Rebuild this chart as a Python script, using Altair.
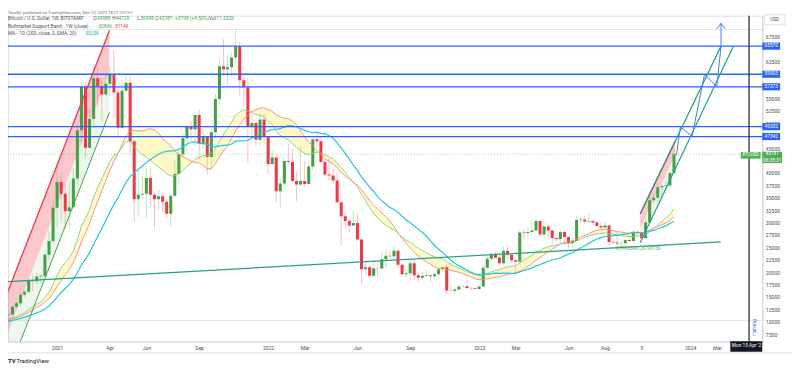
import altair as alt
import pandas as pd

# ---------------- data (prices in thousand USD) ----------------
# weekly candles; week index 0 = week of 2021-01-04, first candle = week of 2020-10-05
first_week = -13
opens = [10.67, 11.38, 11.5, 13.03, 13.75, 15.48, 16.05, 18.4, 18.2, 19.15,
         19.3, 23.5, 26.3, 33.0, 38.2, 35.8, 32.3, 33.1, 38.9, 48.6,
         57.4, 45.1, 50.9, 59.1, 57.5, 55.8, 58.0, 59.9, 56.2, 49.1,
         56.6, 58.2, 46.4, 34.7, 35.6, 35.8, 39.0, 35.6, 34.7, 35.3,
         34.2, 31.8, 35.4, 39.8, 43.8, 47.0, 49.3, 48.8, 51.7, 46.0,
         47.3, 43.2, 48.2, 54.9, 61.5, 60.9, 61.3, 63.3, 65.5, 58.7,
         57.3, 49.4, 50.1, 46.7, 50.8, 47.3, 41.8, 43.1, 36.3, 37.9,
         42.4, 42.2, 38.4, 37.7, 38.4, 37.8, 41.3, 46.8, 46.4, 42.2,
         39.7, 39.5, 38.5, 34.1, 31.3, 30.3, 29.4, 29.9, 26.6, 20.6,
         21.0, 19.3, 20.8, 20.75, 22.6, 23.3, 23.2, 24.3, 21.5, 19.6,
         19.8, 21.8, 19.4, 18.9, 19.3, 19.4, 19.2, 19.6, 20.6, 21.0,
         16.33, 16.28, 16.5, 17.1, 17.15, 16.8, 16.78, 16.6, 17.1, 20.9,
         22.7, 23.7, 22.9, 21.8, 24.3, 23.5, 22.4, 22.1, 28.0, 27.9,
         28.1, 28.4, 30.3, 27.6, 29.2, 28.4, 26.9, 26.7, 28.1, 27.1,
         25.9, 26.3, 30.5, 30.6, 30.2, 30.3, 30.0, 29.3, 29.0, 29.4,
         26.1, 26.0, 25.8, 25.85, 26.5, 26.3, 27.9, 27.95, 26.9, 30.0,
         34.5, 35.0, 37.1, 37.4, 37.5, 39.99]
highs = [11.49, 11.73, 13.35, 14.1, 15.96, 16.48, 18.8, 19.42, 19.9, 19.42,
         24.3, 28.4, 34.8, 41.9, 40.1, 37.9, 38.5, 40.9, 49.7, 58.4,
         58.1, 52.6, 61.8, 61.0, 58.6, 60.0, 61.3, 64.9, 57.5, 58.0,
         59.6, 59.6, 46.7, 40.9, 39.5, 41.3, 41.3, 36.1, 36.6, 35.9,
         34.7, 35.4, 42.6, 44.8, 48.1, 49.5, 50.5, 51.9, 52.9, 48.8,
         47.3, 49.2, 56.0, 62.9, 67.0, 63.7, 64.3, 69.0, 66.4, 59.6,
         59.2, 51.9, 50.3, 51.9, 52.1, 47.6, 44.5, 43.5, 38.9, 43.0,
         45.8, 44.7, 40.3, 45.4, 42.4, 42.3, 47.5, 48.2, 47.4, 42.4,
         42.9, 40.8, 40.0, 34.3, 31.5, 30.7, 32.4, 31.7, 26.9, 21.9,
         21.5, 22.5, 21.6, 24.3, 24.6, 24.2, 25.2, 24.4, 21.8, 20.6,
         22.8, 22.7, 19.9, 20.2, 20.5, 19.6, 19.7, 20.8, 21.1, 21.4,
         17.2, 16.8, 17.4, 17.4, 18.4, 17.0, 16.9, 17.4, 21.3, 23.3,
         23.9, 24.2, 23.4, 25.2, 25.1, 23.9, 22.6, 28.4, 28.9, 29.2,
         30.5, 31.0, 30.5, 30.0, 29.8, 28.6, 27.5, 28.4, 28.4, 27.2,
         26.8, 31.4, 31.0, 31.4, 31.8, 30.4, 30.3, 29.9, 30.2, 29.4,
         26.8, 28.1, 26.4, 26.9, 27.4, 28.6, 28.5, 28.0, 30.7, 35.2,
         35.9, 37.9, 37.9, 38.4, 40.2, 44.729]
lows = [10.54, 11.2, 11.41, 12.78, 13.21, 14.83, 15.8, 16.2, 17.6, 17.6,
        19.0, 22.4, 25.9, 29.0, 30.4, 28.8, 29.2, 33.0, 37.4, 46.2,
        43.0, 44.9, 49.3, 53.3, 50.4, 55.7, 55.5, 51.0, 47.0, 48.8,
        56.2, 43.8, 30.0, 31.1, 34.8, 31.0, 33.3, 28.8, 32.7, 32.1,
        31.0, 29.3, 35.2, 37.6, 43.0, 43.9, 46.4, 46.6, 42.8, 44.8,
        39.6, 40.8, 47.0, 53.9, 59.6, 57.8, 59.5, 62.3, 55.6, 53.5,
        42.0, 46.9, 45.5, 45.6, 45.7, 39.7, 41.3, 34.0, 32.9, 37.4,
        41.7, 38.0, 34.3, 37.4, 37.2, 37.5, 40.5, 45.2, 42.0, 39.2,
        38.6, 37.7, 33.7, 25.4, 28.7, 28.0, 29.3, 26.5, 17.6, 19.6,
        18.8, 19.0, 18.9, 20.5, 20.7, 22.4, 22.7, 20.8, 19.5, 19.0,
        18.6, 18.3, 18.1, 18.5, 19.0, 18.2, 18.8, 19.2, 20.0, 15.5,
        16.2, 15.6, 16.3, 16.9, 16.6, 16.3, 16.4, 16.5, 17.1, 20.4,
        22.3, 22.8, 21.4, 21.5, 22.8, 21.9, 19.6, 21.9, 26.6, 27.2,
        27.8, 28.2, 27.1, 26.9, 26.7, 25.8, 26.2, 25.9, 25.4, 24.8,
        25.0, 26.3, 29.9, 29.7, 29.9, 29.6, 28.9, 28.6, 28.7, 25.2,
        25.7, 25.4, 24.9, 25.7, 26.0, 26.0, 27.2, 26.5, 26.8, 29.9,
        33.9, 34.1, 34.7, 35.6, 36.9, 39.988]
closes = [11.38, 11.5, 13.03, 13.75, 15.48, 16.05, 18.4, 18.2, 19.15, 19.3,
          23.5, 26.3, 33.0, 38.2, 35.8, 32.3, 33.1, 38.9, 48.6, 57.4,
          45.1, 50.9, 59.1, 57.5, 55.8, 58.0, 59.9, 56.2, 49.1, 56.6,
          58.2, 46.4, 34.7, 35.6, 35.8, 39.0, 35.6, 34.7, 35.3, 34.2,
          31.8, 35.4, 39.8, 43.8, 47.0, 49.3, 48.8, 51.7, 46.0, 47.3,
          43.2, 48.2, 54.9, 61.5, 60.9, 61.3, 63.3, 65.5, 58.7, 57.3,
          49.4, 50.1, 46.7, 50.8, 47.3, 41.8, 43.1, 36.3, 37.9, 42.4,
          42.2, 38.4, 37.7, 38.4, 37.8, 41.3, 46.8, 46.4, 42.2, 39.7,
          39.5, 38.5, 34.1, 31.3, 30.3, 29.4, 29.9, 26.6, 20.6, 21.0,
          19.3, 20.8, 20.75, 22.6, 23.3, 23.2, 24.3, 21.5, 19.6, 19.8,
          21.8, 19.4, 18.9, 19.3, 19.4, 19.2, 19.6, 20.6, 21.0, 16.33,
          16.28, 16.5, 17.1, 17.15, 16.8, 16.78, 16.6, 17.1, 20.9, 22.7,
          23.7, 22.9, 21.8, 24.3, 23.5, 22.4, 22.1, 28.0, 27.9, 28.1,
          28.4, 30.3, 27.6, 29.2, 28.4, 26.9, 26.7, 28.1, 27.1, 25.9,
          26.3, 30.5, 30.6, 30.2, 30.3, 30.0, 29.3, 29.0, 29.4, 26.1,
          26.0, 25.8, 25.85, 26.5, 26.3, 27.9, 27.95, 26.9, 30.0, 34.5,
          35.0, 37.1, 37.4, 37.5, 39.99, 43.787]
# Bull market support band (20W SMA red, 21W EMA green) and 200D SMA (cyan), one value per candle
sma20w = [10.34, 10.45, 10.61, 10.83, 11.14, 11.48, 11.95, 12.40, 12.90, 13.36,
          13.98, 14.71, 15.77, 17.10, 18.30, 19.40, 20.54, 21.94, 23.83, 26.17,
          27.85, 29.82, 32.13, 34.31, 36.33, 38.43, 40.50, 42.40, 43.90, 45.77,
          47.50, 48.51, 48.59, 48.46, 48.46, 48.80, 48.92, 48.71, 48.05, 46.89,
          46.22, 45.45, 44.48, 43.80, 43.36, 42.92, 42.37, 42.14, 41.99, 41.52,
          40.77, 40.86, 41.87, 43.17, 44.42, 45.54, 46.92, 48.46, 49.63, 50.79,
          51.67, 52.40, 52.75, 53.10, 53.11, 52.74, 52.45, 51.68, 51.28, 51.03,
          50.98, 50.49, 49.63, 48.48, 47.32, 46.32, 45.50, 44.54, 43.72, 42.84,
          42.34, 41.76, 41.13, 40.16, 39.31, 38.69, 38.03, 37.54, 36.68, 35.61,
          34.46, 33.58, 32.74, 31.95, 31.22, 30.32, 29.19, 27.95, 26.82, 25.82,
          24.94, 23.98, 23.22, 22.62, 22.08, 21.57, 21.05, 20.75, 20.77, 20.54,
          20.39, 20.17, 19.99, 19.71, 19.39, 19.07, 18.68, 18.46, 18.53, 18.67,
          18.77, 18.94, 19.09, 19.34, 19.54, 19.70, 19.83, 20.20, 20.54, 21.13,
          21.74, 22.43, 22.95, 23.56, 24.14, 24.64, 25.15, 25.70, 26.01, 26.17,
          26.30, 26.68, 27.12, 27.41, 27.75, 28.13, 28.49, 28.54, 28.62, 28.52,
          28.40, 28.17, 28.08, 27.95, 27.84, 27.89, 27.95, 27.89, 28.04, 28.47,
          28.90, 29.23, 29.57, 29.94, 30.42, 31.15]
ema21w = [10.46, 10.55, 10.78, 11.05, 11.45, 11.87, 12.46, 12.98, 13.54, 14.06,
          14.92, 15.95, 17.50, 19.38, 20.87, 21.91, 22.93, 24.38, 26.58, 29.38,
          30.81, 32.64, 35.04, 37.08, 38.78, 40.53, 42.29, 43.55, 44.05, 45.19,
          46.37, 46.37, 45.31, 44.43, 43.65, 43.23, 42.54, 41.83, 41.24, 40.60,
          39.80, 39.40, 39.44, 39.84, 40.49, 41.29, 41.97, 42.85, 43.14, 43.52,
          43.49, 43.92, 44.92, 46.43, 47.75, 48.98, 50.28, 51.66, 52.30, 52.75,
          52.45, 52.24, 51.74, 51.65, 51.25, 50.39, 49.73, 48.51, 47.55, 47.08,
          46.64, 45.89, 45.15, 44.54, 43.93, 43.69, 43.97, 44.19, 44.01, 43.62,
          43.25, 42.82, 42.03, 41.05, 40.07, 39.10, 38.26, 37.20, 35.69, 34.35,
          32.98, 31.87, 30.86, 30.11, 29.49, 28.92, 28.50, 27.86, 27.11, 26.45,
          26.03, 25.43, 24.84, 24.34, 23.89, 23.46, 23.11, 22.88, 22.71, 22.13,
          21.60, 21.14, 20.77, 20.44, 20.11, 19.81, 19.52, 19.30, 19.45, 19.75,
          20.11, 20.36, 20.49, 20.84, 21.08, 21.20, 21.28, 21.89, 22.44, 22.95,
          23.45, 24.07, 24.39, 24.83, 25.15, 25.31, 25.44, 25.68, 25.81, 25.82,
          25.86, 26.28, 26.67, 26.99, 27.29, 27.54, 27.70, 27.82, 27.96, 27.79,
          27.63, 27.46, 27.31, 27.24, 27.15, 27.22, 27.28, 27.25, 27.50, 28.14,
          28.76, 29.52, 30.24, 30.90, 31.73, 32.85]
ma200d = [10.0, 10.15, 10.3, 10.5, 10.7, 10.95, 11.2, 11.5, 11.8, 12.13,
          12.61, 13.18, 14.00, 14.99, 15.91, 16.71, 17.54, 18.56, 19.90, 21.49,
          22.64, 23.99, 25.62, 27.20, 28.77, 30.42, 32.11, 33.67, 35.00, 36.56,
          38.17, 39.32, 40.04, 40.73, 41.42, 42.13, 42.73, 43.26, 43.81, 44.18,
          44.37, 44.46, 44.51, 44.79, 45.29, 45.85, 46.19, 46.30, 45.91, 45.98,
          45.72, 45.34, 45.25, 45.45, 45.55, 45.60, 45.84, 46.41, 46.48, 46.45,
          46.55, 47.08, 47.47, 47.98, 48.27, 48.48, 48.77, 48.81, 48.93, 49.30,
          49.53, 49.49, 49.28, 48.98, 48.58, 48.32, 48.16, 48.17, 47.99, 47.87,
          47.57, 47.01, 46.06, 45.04, 43.97, 42.80, 41.58, 40.47, 39.20, 38.22,
          37.16, 36.27, 35.23, 34.38, 33.74, 33.06, 32.64, 32.08, 31.29, 30.52,
          29.95, 29.32, 28.64, 28.01, 27.25, 26.30, 25.38, 24.63, 23.99, 23.19,
          22.42, 21.81, 21.32, 20.87, 20.43, 19.98, 19.64, 19.52, 19.51, 19.63,
          19.73, 19.80, 19.78, 19.81, 19.82, 19.76, 19.78, 20.07, 20.34, 20.56,
          20.87, 21.27, 21.55, 21.89, 22.21, 22.46, 22.67, 22.91, 23.29, 23.62,
          23.96, 24.42, 24.88, 25.34, 25.81, 26.27, 26.69, 26.97, 27.20, 27.29,
          27.39, 27.53, 27.58, 27.69, 27.82, 28.02, 28.02, 27.98, 28.05, 28.26,
          28.42, 28.75, 29.03, 29.34, 29.80, 30.26]

levels = [65570, 59903, 57373, 49332, 47342]
last_price = 43787
faint_levels = [68900, 10240]

x_tick_weeks = [0, 13, 22, 35, 52, 61, 74, 87, 104, 113, 126, 135, 144, 156, 162.6]
x_tick_labels = ["2021", "Apr", "Jun", "Sep", "2022", "Mar", "Jun", "Sep",
                 "2023", "Mar", "Jun", "Aug", "9", "2024", "Mar"]
# price-scale labels (those hidden behind the level / price tags are left out)
y_ticks = [7500, 10000, 12500, 15000, 17500, 20000, 22500, 25000, 27500, 30000,
           32500, 35000, 37500, 40000, 45000, 50000, 52500, 55000, 62500, 67500]

# drawings: (week index, price USD)
chan1_weeks = [-14.05, 12.9]
chan1_top = [12050, 68730]
chan1_mid = [3780, 60460]
chan1_bot = [-4490, 52190]
chan2_weeks = [143.68, 152.29]
chan2_top = [31780, 46370]
chan2_mid = [28860, 43570]
chan2_bot = [25940, 40780]
ext_up_weeks, ext_up_prices = [143.68, 163.59], [31780, 65570]
ext_lo_weeks, ext_lo_prices = [143.68, 166.63], [25940, 65570]
support_weeks, support_prices = [-14.0, 163.5], [18000, 26100]
path_weeks = [152.6, 153.58, 156.44, 159.54, 162.54, 163.59, 163.59]
path_prices = [43550, 49332, 47342, 59903, 57373, 65570, 70150]
arrow_weeks = [162.6, 163.59, 164.58]
arrow_prices = [69090, 70150, 69090]
halving_week = 170.5

for arr in (opens, highs, lows, closes, sma20w, ema21w, ma200d):
    assert len(arr) == len(closes), len(arr)

# ---------------- colours ----------------
UP, DOWN = "#43a047", "#f23645"
BLUE = "#2962ff"
TEAL = "#22a08a"
GRAY = "#50535e"
FONT = "Roboto"

XS = alt.Scale(domain=[-12.1, 173.76], nice=False, zero=False)
YS = alt.Scale(domain=[6044, 71690], nice=False, zero=False)

labels_js = "[" + ",".join("'%s'" % s for s in x_tick_labels) + "]"
vals_js = "[" + ",".join(str(v) for v in x_tick_weeks) + "]"
X_AXIS = alt.Axis(values=x_tick_weeks, labelExpr=f"{labels_js}[indexof({vals_js}, datum.value)]",
                  ticks=False, grid=False, domainColor="#d1d4dc",
                  labelColor="#4a4e59", labelFontSize=5.2, labelFont=FONT, labelPadding=4,
                  labelOverlap=False, labelFlush=False, title=None)
Y_AXIS = alt.Axis(orient="right", values=y_ticks, format="d", ticks=False,
                  grid=False, domainColor="#d1d4dc", labelColor="#4a4e59",
                  labelFontSize=5.2, labelFont=FONT, labelPadding=3, labelAlign="left",
                  labelOverlap=False, title=None)


def X(f, **kw):
    return alt.X(f, type="quantitative", scale=XS, axis=X_AXIS, title=None, **kw)


def Y(f, **kw):
    return alt.Y(f, type="quantitative", scale=YS, axis=Y_AXIS, title=None, **kw)


weeks = [first_week + i for i in range(len(closes))]
cd = pd.DataFrame({
    "k": weeks,
    "o": [v * 1000 for v in opens], "h": [v * 1000 for v in highs],
    "l": [v * 1000 for v in lows], "c": [v * 1000 for v in closes],
})
cd["x1"] = cd.k - 0.37
cd["x2"] = cd.k + 0.37
cd["col"] = [UP if c >= o else DOWN for o, c in zip(cd.o, cd.c)]

ind = pd.DataFrame({"k": weeks,
                    "sma": [v * 1000 for v in sma20w],
                    "ema": [v * 1000 for v in ema21w],
                    "ma": [v * 1000 for v in ma200d]})

layers = []

# candle bodies (defined here, layered after the fills)
bodies = alt.Chart(cd).mark_bar(clip=True).encode(
    x=X("x1"), x2="x2:Q", y=Y("o"), y2="c:Q",
    color=alt.Color("col:N", scale=None))

# faint horizontal lines
layers.append(alt.Chart(pd.DataFrame({"p": faint_levels})).mark_rule(
    color="#e3e4e8", strokeWidth=1).encode(y=Y("p")))

# channel 1 fills
ch1 = pd.DataFrame({"k": chan1_weeks, "t": chan1_top, "m": chan1_mid, "b": chan1_bot})
layers.append(alt.Chart(ch1).mark_area(color=DOWN, opacity=0.28, clip=True).encode(
    x=X("k"), y=Y("t"), y2="m:Q"))
layers.append(alt.Chart(ch1).mark_area(color="#4caf50", opacity=0.1, clip=True).encode(
    x=X("k"), y=Y("m"), y2="b:Q"))
# channel 2 fills
ch2 = pd.DataFrame({"k": chan2_weeks, "t": chan2_top, "m": chan2_mid, "b": chan2_bot})
layers.append(alt.Chart(ch2).mark_area(color=DOWN, opacity=0.28, clip=True).encode(
    x=X("k"), y=Y("t"), y2="m:Q"))
layers.append(alt.Chart(ch2).mark_area(color="#4caf50", opacity=0.1, clip=True).encode(
    x=X("k"), y=Y("m"), y2="b:Q"))

# bull market support band fill
layers.append(alt.Chart(ind).mark_area(color="#fff176", opacity=0.4, clip=True).encode(
    x=X("k"), y=Y("sma"), y2="ema:Q"))

# wicks and bodies
layers.append(alt.Chart(cd).mark_rule(strokeWidth=1, opacity=0.3, clip=True).encode(
    x=X("k"), y=Y("l"), y2="h:Q", color=alt.Color("col:N", scale=None)))
layers.append(bodies)

# indicator lines
layers.append(alt.Chart(ind).mark_line(color="#f08a80", strokeWidth=1, opacity=0.9, clip=True).encode(
    x=X("k"), y=Y("sma")))
layers.append(alt.Chart(ind).mark_line(color="#8cc98a", strokeWidth=1, opacity=0.9, clip=True).encode(
    x=X("k"), y=Y("ema")))
layers.append(alt.Chart(ind).mark_line(color="#26c6da", strokeWidth=1.2, clip=True).encode(
    x=X("k"), y=Y("ma")))

# horizontal resistance levels and current price line
layers.append(alt.Chart(pd.DataFrame({"p": levels})).mark_rule(color=BLUE, strokeWidth=1.3).encode(
    y=Y("p")))
layers.append(alt.Chart(pd.DataFrame({"p": [last_price]})).mark_rule(
    color="#4caf50", strokeWidth=1, strokeDash=[1, 2], opacity=0.55).encode(y=Y("p")))

# drawn trend lines (segments)
seg = pd.DataFrame([
    {"k": support_weeks[0], "p": support_prices[0], "k2": support_weeks[1], "p2": support_prices[1], "col": TEAL, "w": 1.3},
    {"k": chan1_weeks[0], "p": chan1_top[0], "k2": chan1_weeks[1], "p2": chan1_top[1], "col": DOWN, "w": 1.3},
    {"k": chan1_weeks[0], "p": chan1_bot[0], "k2": chan1_weeks[1], "p2": chan1_bot[1], "col": "#43a047", "w": 1.0},
    {"k": chan2_weeks[0], "p": chan2_top[0], "k2": chan2_weeks[1], "p2": chan2_top[1], "col": DOWN, "w": 1.3},
    {"k": ext_up_weeks[0], "p": ext_up_prices[0], "k2": ext_up_weeks[1], "p2": ext_up_prices[1], "col": TEAL, "w": 1.2},
    {"k": ext_lo_weeks[0], "p": ext_lo_prices[0], "k2": ext_lo_weeks[1], "p2": ext_lo_prices[1], "col": TEAL, "w": 1.2},
])
layers.append(alt.Chart(seg).mark_rule(clip=True).encode(
    x=X("k"), x2="k2:Q", y=Y("p"), y2="p2:Q",
    color=alt.Color("col:N", scale=None), strokeWidth=alt.StrokeWidth("w:Q", scale=None)))

# projected path with arrow
pseg = pd.DataFrame({"k": path_weeks[:-1], "p": path_prices[:-1],
                     "k2": path_weeks[1:], "p2": path_prices[1:]})
aseg = pd.DataFrame({"k": arrow_weeks[:-1], "p": arrow_prices[:-1],
                     "k2": arrow_weeks[1:], "p2": arrow_prices[1:]})
for d in (pseg, aseg):
    layers.append(alt.Chart(d).mark_rule(color="#3d7bf7", strokeWidth=1, clip=True).encode(
        x=X("k"), x2="k2:Q", y=Y("p"), y2="p2:Q"))

# halving vertical line
layers.append(alt.Chart(pd.DataFrame({"k": [halving_week]})).mark_rule(
    color="#2a2e39", strokeWidth=1.3).encode(x=X("k")))

# small value label on the support line
layers.append(alt.Chart(pd.DataFrame({"k": [137.7], "p": [24700], "t": ["0.9986343120198139"]})).mark_text(
    align="left", baseline="middle", fontSize=4.6, font=FONT, color="#4caf50").encode(
    x=X("k"), y=Y("p"), text="t:N"))

# price-axis boxes for levels
lv = pd.DataFrame({"p": levels, "t": [str(v) for v in levels]})
lv["lo"] = lv.p - 720
lv["hi"] = lv.p + 720
layers.append(alt.Chart(lv).mark_rect(color=BLUE).encode(
    x=alt.value(762), x2=alt.value(780), y=Y("lo"), y2="hi:Q"))
layers.append(alt.Chart(lv).mark_text(color="white", fontSize=4.8, font=FONT, align="center",
                                      baseline="middle").encode(
    x=alt.value(771), y=Y("p"), text="t:N"))

# current price box on the price axis + BTCUSD tag
layers.append(alt.Chart(pd.DataFrame({"lo": [42000], "hi": [44300]})).mark_rect(color="#4caf50").encode(
    x=alt.value(762), x2=alt.value(782), y=Y("lo"), y2="hi:Q"))
layers.append(alt.Chart(pd.DataFrame({"p": [last_price, 42360], "t": [str(last_price), "06:38:31"]})).mark_text(
    color="white", fontSize=4.8, font=FONT, align="center", baseline="middle").encode(
    x=alt.value(772), y=Y("p"), text="t:N"))
layers.append(alt.Chart(pd.DataFrame({"lo": [42900], "hi": [44250]})).mark_rect(color="#4caf50").encode(
    x=alt.value(740.3), x2=alt.value(760.3), y=Y("lo"), y2="hi:Q"))
layers.append(alt.Chart(pd.DataFrame({"p": [43580], "t": ["BTCUSD"]})).mark_text(
    color="white", fontSize=4.5, font=FONT, align="center", baseline="middle").encode(
    x=alt.value(750.3), y=Y("p"), text="t:N"))


def label(text, px, py, color=GRAY, size=4.9, align="left", weight="normal", angle=0):
    return alt.Chart(pd.DataFrame({"t": [text]})).mark_text(
        align=align, baseline="middle", color=color, fontSize=size, font=FONT,
        fontWeight=weight, angle=angle).encode(x=alt.value(px), y=alt.value(py), text="t:N")


def box(x1, x2, y1, y2, fill, stroke=None):
    kw = {"fill": fill}
    if stroke:
        kw["stroke"] = stroke
        kw["strokeWidth"] = 0.8
    return alt.Chart(pd.DataFrame({"a": [0]})).mark_rect(**kw).encode(
        x=alt.value(x1), x2=alt.value(x2), y=alt.value(y1), y2=alt.value(y2))


GREEN_T = "#3fa653"
# header and legend
layers += [
    label("TaroNL published on TradingView.com, Dec 10, 2023 18:21 UTC+1", 0, -3, color="#6a6d78", size=4.3),
    label("Bitcoin / U.S. Dollar, 1W, BITSTAMP", 0, 3.5),
    label("O", 86, 3.5), label("39988", 89.6, 3.5, color=GREEN_T),
    label("H", 105.3, 3.5), label("44729", 109, 3.5, color=GREEN_T),
    label("L", 130.5, 3.5), label("39988", 133.5, 3.5, color=GREEN_T),
    label("C", 148.8, 3.5), label("43787", 152.3, 3.5, color=GREEN_T),
    label("+3798 (+9.50%)", 168.7, 3.5, color=GREEN_T),
    label("Vol", 203, 3.5), label("11.332K", 210.5, 3.5, color=GREEN_T),
    label("Bullmarket Support Band - 1W (close)", 0, 11.2),
    label("32846", 91.3, 11.2, color=GREEN_T), label("31146", 108, 11.2, color=DOWN),
    label("MA - 1D (200, close, 0, SMA, 20)", 0, 18.8),
    label("30258", 78, 18.8, color="#26b5c9"),
]

# USD box, halving text, date box, bottom border and logo
layers += [
    box(764, 785, -1, 9, "white", "#d1d4dc"),
    label("USD", 774.5, 4, color="#4a4e59", size=4.8, align="center"),
    label("Halving", 753.7, 315, color=BLUE, size=5, align="center", angle=270),
    box(729.7, 762, 328.7, 339.3, "#131722"),
    label("Mon 15 Apr '2", 746, 334, color="white", size=4.8, align="center"),
    label("TV", 0, 348.5, color="#131722", size=6, weight="bold"),
    label("TradingView", 8.5, 348.5, color="#131722", size=6),
]
layers.append(alt.Chart(pd.DataFrame({"a": [0]})).mark_rule(color="#e0e3eb", strokeWidth=1).encode(
    x=alt.value(0), x2=alt.value(792), y=alt.value(340.5)))

chart = alt.layer(*layers).properties(
    width=762, height=329,
    padding={"left": 0, "top": 6, "right": 30, "bottom": 27},
    autosize=alt.AutoSizeParams(type="none"),
    background="white",
).configure_view(stroke="#e0e3eb").configure_axis(grid=False)

chart.save("out.html", embed_options={"renderer": "svg", "actions": False})
